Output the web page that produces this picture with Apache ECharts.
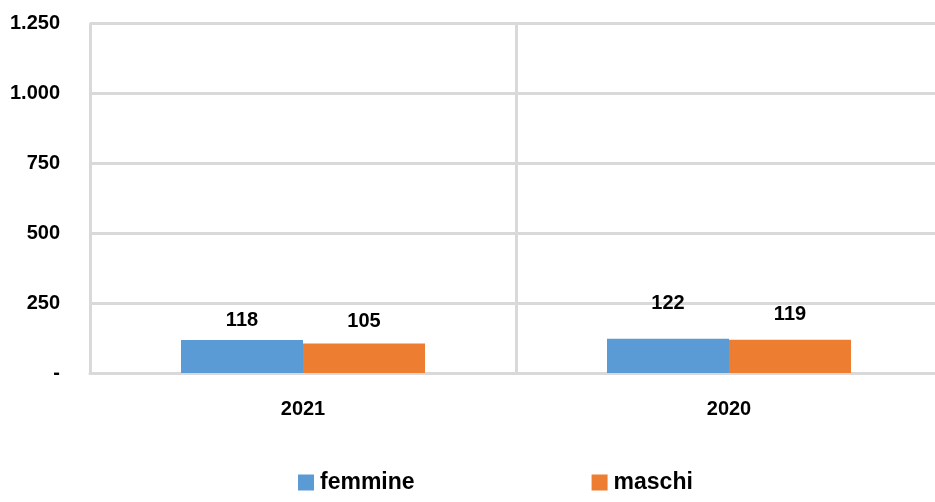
<!DOCTYPE html>
<html><head><meta charset="utf-8">
<script src="https://cdn.jsdelivr.net/npm/echarts@6/dist/echarts.min.js"></script>
<style>html,body{margin:0;padding:0;background:#fff;overflow:hidden}#c{width:942px;height:502px}</style>
</head><body><div id="c"></div>
<script>
const categories = ['2021', '2020'];
const femmine = [118, 122];
const maschi = [105, 119];
const yTicks = [0, 250, 500, 750, 1000, 1250];
// label offsets (style only)
const femLabelOffset = [[0, 3], [0, -13]];
const masLabelOffset = [[0, 0], [0, -3]];

const FONT = '"Liberation Sans Narrow", "Arial Narrow", "Liberation Sans", Arial, sans-serif';
function fmt(v) {
  if (v === 0) return '-';
  return String(v).replace(/\B(?=(\d{3})+(?!\d))/g, '.');
}
const chart = echarts.init(document.getElementById('c'), null, {renderer: 'canvas'});
function mk(vals, offs) {
  return vals.map((v, i) => ({value: v, label: {offset: offs[i]}}));
}
chart.setOption({
  animation: false,
  grid: {left: 90, top: 23, right: 0, height: 350, containLabel: false},
  xAxis: {
    type: 'category', data: categories,
    axisLine: {show: true, lineStyle: {color: '#d9d9d9', width: 3}},
    axisTick: {show: false},
    splitLine: {show: true, lineStyle: {color: '#d9d9d9', width: 3}},
    axisLabel: {color: '#000', fontFamily: FONT, fontWeight: 'bold', fontSize: 20, margin: 26}
  },
  yAxis: {
    type: 'value', min: yTicks[0], max: yTicks[yTicks.length - 1], interval: 250,
    axisLine: {show: false}, axisTick: {show: false},
    splitLine: {show: true, lineStyle: {color: '#d9d9d9', width: 3}},
    axisLabel: {color: '#000', fontFamily: FONT, fontWeight: 'bold', fontSize: 20, margin: 30, formatter: fmt}
  },
  legend: {
    bottom: 8, left: 298, padding: 0, itemWidth: 16, itemHeight: 16, itemGap: 177,
    icon: 'rect',
    textStyle: {color: '#000', fontFamily: FONT, fontWeight: 'bold', fontSize: 23, padding: [0, 0, 0, 1]},
    data: ['femmine', 'maschi']
  },
  series: [
    {name: 'femmine', type: 'bar', data: mk(femmine, femLabelOffset), barWidth: 122, barGap: '0%',
     itemStyle: {color: '#5b9bd5'},
     label: {show: true, position: 'top', distance: 12, color: '#000', fontFamily: FONT, fontWeight: 'bold', fontSize: 20}},
    {name: 'maschi', type: 'bar', data: mk(maschi, masLabelOffset), barWidth: 122,
     itemStyle: {color: '#ed7d31'},
     label: {show: true, position: 'top', distance: 12, color: '#000', fontFamily: FONT, fontWeight: 'bold', fontSize: 20}}
  ]
});
</script></body></html>
